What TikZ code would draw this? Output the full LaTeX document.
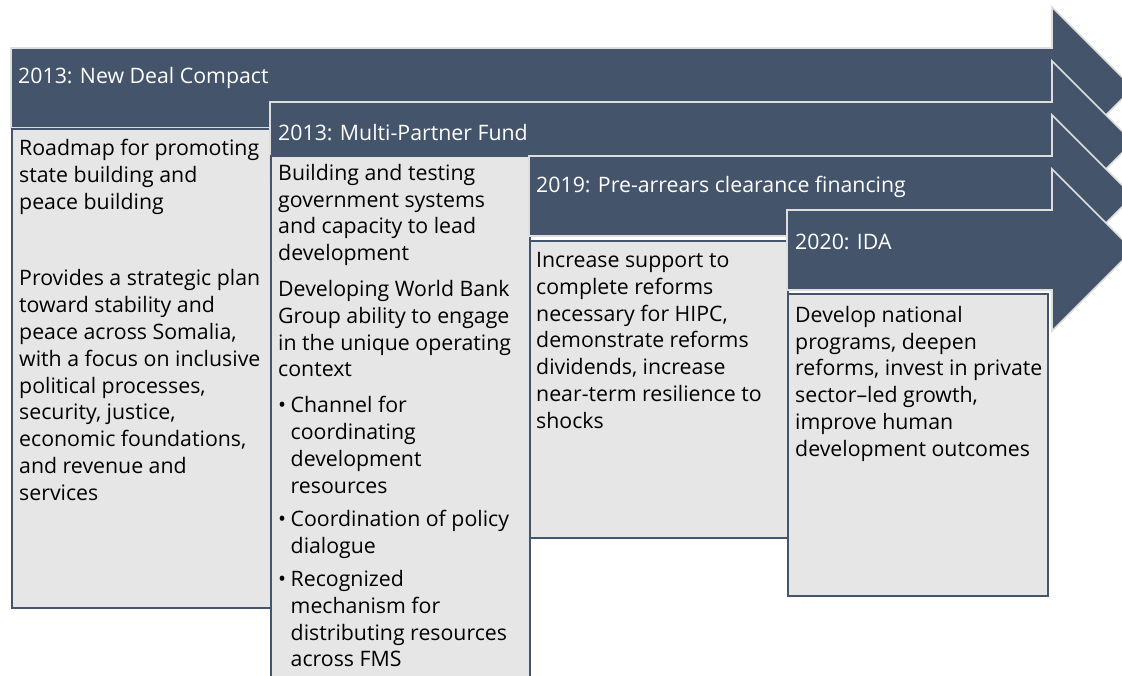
\documentclass[tikz,border=0pt]{standalone}
\usepackage{fontspec}
\setmainfont{Open Sans}
\usepackage{tikz}
\usetikzlibrary{positioning}

\definecolor{slate}{HTML}{44546A}
\definecolor{panelgray}{HTML}{E6E6E6}
\definecolor{rim}{HTML}{DEDEDE}

% one arrow: left end, centre line
\newcommand{\phasearrow}[2]{%
  \draw[phase] (#1,#2-40) -- (1052,#2-40) -- (1052,#2-81) -- (1133,#2) -- (1052,#2+81) -- (1052,#2+40) -- (#1,#2+40) -- cycle;}

\begin{document}
\begin{tikzpicture}[x=1pt, y=-1pt,
                    phase/.style={fill=slate, draw=rim, line width=1.6pt},
                    panel/.style={fill=panelgray, draw=slate, line width=1.8pt, anchor=north west, inner sep=0pt},
                    phasetext/.style={anchor=west, inner sep=0pt, text=white, font=\fontsize{21.3}{26.8}\selectfont},
                    paneltext/.style={anchor=north west, inner sep=0pt, align=left, font=\fontsize{21.3}{26.8}\selectfont},
                    ]
  \useasboundingbox (0,0) rectangle (1122,675);
  \clip (0,0) rectangle (1122,675);

  % 2013 compact
  \phasearrow{11}{88}
  \node[phasetext] (compact) at (18,78) {2013: New Deal Compact};
  \node[panel, minimum width=259pt, minimum height=479pt] (p1) at (11,128) {};
  \node[paneltext, below right=11pt and 8pt of p1.north west] (p1text)
    {Roadmap for promoting\\
     state building and\\
     peace building\\[50pt]
     Provides a strategic plan\\
     toward stability and\\
     peace across Somalia,\\
     with a focus on inclusive\\
     political processes,\\
     security, justice,\\
     economic foundations,\\
     and revenue and\\
     services};

  % 2013 fund
  \phasearrow{270}{142}
  \node[phasetext] (fund) at (278,133) {2013: Multi-Partner Fund};
  \node[panel, minimum width=259pt, minimum height=560pt] (p2) at (270,155) {};
  \node[paneltext, below right=9pt and 8pt of p2.north west] (p2text)
    {Building and testing\\
     government systems\\
     and capacity to lead\\
     development\\[9pt]
     Developing World Bank\\
     Group ability to engage\\
     in the unique operating\\
     context\\[9pt]
     \makebox[12.5pt][l]{\textbullet}Channel for\\
     \hspace*{12.5pt}coordinating\\
     \hspace*{12.5pt}development\\
     \hspace*{12.5pt}resources\\[7pt]
     \makebox[12.5pt][l]{\textbullet}Coordination of policy\\
     \hspace*{12.5pt}dialogue\\[6pt]
     \makebox[12.5pt][l]{\textbullet}Recognized\\
     \hspace*{12.5pt}mechanism for\\
     \hspace*{12.5pt}distributing resources\\
     \hspace*{12.5pt}across FMS};

  % 2019 pre-arrears
  \phasearrow{529}{196}
  \node[phasetext] (prearrears) at (536,187) {2019: Pre-arrears clearance financing};
  \node[panel, minimum width=258pt, minimum height=297pt] (p3) at (529,240) {};
  \node[paneltext, below right=12pt and 7pt of p3.north west] (p3text)
    {Increase support to\\
     complete reforms\\
     necessary for HIPC,\\
     demonstrate reforms\\
     dividends, increase\\
     near-term resilience to\\
     shocks};

  % 2020 IDA
  \phasearrow{787}{250}
  \node[phasetext] (ida) at (795,242) {2020: IDA};
  \node[panel, minimum width=260pt, minimum height=302pt] (p4) at (787,293) {};
  \node[paneltext, below right=13pt and 8pt of p4.north west] (p4text)
    {Develop national\\
     programs, deepen\\
     reforms, invest in private\\
     sector–led growth,\\
     improve human\\
     development outcomes};
\end{tikzpicture}
\end{document}
